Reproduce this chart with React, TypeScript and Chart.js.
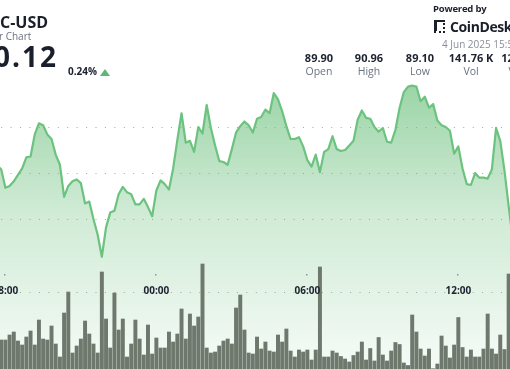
import React, { useEffect, useRef } from "react";
import { Chart, registerables } from "chart.js";

Chart.register(...registerables);

// Time in minutes after 3 Jun 2025 18:00, 10-minute steps
const priceStartMinute = -20;
const volumeStartMinute = -10;
const stepMinutes = 10;

const prices = [
  90.09, 90.05, 89.85, 89.87, 89.92, 89.99, 90.06, 90.18, 90.19, 90.43,
  90.55, 90.53, 90.43, 90.38, 90.21, 90.10, 89.75, 89.87, 89.92, 89.94,
  89.90, 89.68, 89.70, 89.51, 89.34, 89.10, 89.42, 89.58, 89.60, 89.78,
  89.86, 89.80, 89.78, 89.67, 89.67, 89.73, 89.64, 89.54, 89.82, 89.93,
  89.89, 89.83, 90.06, 90.37, 90.66, 90.34, 90.36, 90.24, 90.51, 90.44,
  90.75, 90.50, 90.31, 90.14, 90.13, 90.10, 90.27, 90.45, 90.52, 90.57,
  90.53, 90.45, 90.60, 90.62, 90.70, 90.66, 90.88, 90.81, 90.68, 90.52,
  90.38, 90.38, 90.40, 90.30, 90.15, 90.08, 90.21, 90.02, 90.24, 90.27,
  90.41, 90.27, 90.25, 90.26, 90.31, 90.36, 90.59, 90.69, 90.61, 90.60,
  90.51, 90.46, 90.50, 90.35, 90.34, 90.48, 90.72, 90.89, 90.95, 90.96,
  90.95, 90.79, 90.84, 90.72, 90.76, 90.58, 90.53, 90.51, 90.47, 90.22,
  90.30, 90.06, 89.89, 89.88, 90.01, 89.96, 89.96, 89.95, 90.05, 90.50,
  90.36, 90.04, 89.65, 89.28,
];

const volumes = [
  986, 986, 1156, 1258, 952, 816, 1088, 1292, 816, 1666,
  1020, 986, 1462, 850, 408, 1904, 2618, 544, 782, 1020,
  1632, 1190, 850, 544, 3298, 1700, 714, 2584, 1326, 1700,
  408, 850, 1666, 1020, 476, 1496, 510, 1054, 714, 714,
  1258, 918, 1190, 2040, 1020, 1870, 1462, 1768, 3570, 714,
  544, 578, 782, 952, 1020, 850, 2074, 2516, 1326, 544,
  510, 1088, 680, 918, 612, 578, 1156, 918, 1360, 612,
  408, 646, 578, 646, 306, 646, 3468, 408, 408, 612,
  544, 425, 340, 238, 459, 578, 918, 306, 697, 272,
  1071, 476, 272, 612, 901, 833, 204, 119, 1836, 1258,
  680, 442, 680, 10, 170, 1122, 782, 374, 816, 1751,
  731, 408, 646, 408, 408, 680, 1870, 680, 510, 1156,
  663, 3230,
];

const tickMinutes = [0, 360, 720, 1080];
const tickLabels = ["18:00", "00:00", "06:00", "12:00"];
const priceGridValues = [89.5, 90.0, 90.5];

const statValues = ["89.90", "90.96", "89.10", "141.76 K", "12.76 M"];
const statLabels = ["Open", "High", "Low", "Vol", "Value"];

const FONT = '"Open Sans", "Noto Sans", sans-serif';

const timeAxisPlugin = {
  id: "timeAxis",
  beforeDatasetsDraw(chart: any) {
    const { ctx, chartArea } = chart;
    const rowY = chartArea.bottom - 77 + 0.5;
    ctx.save();
    ctx.strokeStyle = "rgba(80,80,80,0.5)";
    ctx.lineWidth = 1;
    ctx.setLineDash([1, 8.43]);
    ctx.lineDashOffset = -1.2;
    ctx.beginPath();
    ctx.moveTo(chartArea.left, rowY);
    ctx.lineTo(chartArea.right, rowY);
    ctx.stroke();
    ctx.restore();
  },
  afterDatasetsDraw(chart: any) {
    const { ctx, chartArea, scales } = chart;
    const x = scales.x;
    const rowY = chartArea.bottom - 77;
    ctx.save();
    ctx.font = `bold 10px ${FONT}`;
    ctx.textAlign = "center";
    ctx.textBaseline = "alphabetic";
    tickMinutes.forEach((m, i) => {
      const px = x.getPixelForValue(m);
      ctx.fillStyle = "rgba(90,90,90,0.6)";
      ctx.fillRect(Math.round(px) - 1, rowY - 18, 1.5, 1.5);
      ctx.fillStyle = "#1d2230";
      ctx.fillText(tickLabels[i], px, rowY + 1.5);
    });
    ctx.restore();
  },
};

function PriceChart() {
  const ref = useRef<HTMLCanvasElement | null>(null);
  useEffect(() => {
    if (!ref.current) return;
    const chart = new Chart(ref.current, {
      type: "line",
      data: {
        datasets: [
          {
            type: "line",
            data: prices.map((p, k) => ({ x: priceStartMinute + k * stepMinutes, y: p })),
            borderColor: "#6cc27f",
            borderWidth: 2.2,
            pointRadius: 0,
            tension: 0,
            borderJoinStyle: "round",
            fill: "start",
            backgroundColor: (c: any) => {
              const ch = c.chart;
              const area = ch.chartArea;
              if (!area) return "rgba(98,188,116,0.3)";
              const top = ch.scales.y.getPixelForValue(91.0);
              const g = ch.ctx.createLinearGradient(0, top, 0, area.bottom);
              g.addColorStop(0, "rgba(98,188,116,0.64)");
              g.addColorStop(0.45, "rgba(98,188,116,0.30)");
              g.addColorStop(1, "rgba(98,188,116,0.06)");
              return g;
            },
            yAxisID: "y",
            order: 1,
          } as any,
          {
            type: "bar",
            data: volumes.map((v, k) => ({ x: volumeStartMinute + k * stepMinutes, y: v })),
            backgroundColor: "#6f786d",
            barThickness: 3.3,
            yAxisID: "y1",
            order: 0,
          } as any,
        ],
      },
      options: {
        animation: false,
        responsive: false,
        maintainAspectRatio: false,
        devicePixelRatio: 1,
        layout: { padding: 0 },
        plugins: { legend: { display: false }, tooltip: { enabled: false } },
        scales: {
          x: {
            type: "linear",
            min: -12.85,
            max: 1203.2,
            offset: false,
            display: false,
          },
          y: {
            type: "linear",
            min: 87.88,
            max: 91.891,
            display: true,
            position: "left",
            ticks: { display: false },
            grid: { drawTicks: false, color: "rgba(80,80,80,0.5)", lineWidth: 1 },
            border: { display: false, dash: [1, 8.43], dashOffset: -1.2 },
            afterBuildTicks: (s: any) => {
              s.ticks = priceGridValues.map((v) => ({ value: v }));
            },
          },
          y1: {
            type: "linear",
            min: 0,
            max: 12546,
            display: false,
          },
        },
      } as any,
      plugins: [timeAxisPlugin],
    });
    return () => chart.destroy();
  }, []);
  return (
    <canvas
      ref={ref}
      width={510}
      height={369}
      style={{ position: "absolute", left: 0, top: 0, width: 510, height: 369 }}
    />
  );
}

const abs = (o: React.CSSProperties): React.CSSProperties => ({
  position: "absolute",
  lineHeight: 1,
  whiteSpace: "nowrap",
  ...o,
});

export default function App() {
  const centers = [319, 369, 420, 471, 522];
  return (
    <div
      style={{
        position: "fixed",
        left: 0,
        top: 0,
        width: 510,
        height: 369,
        overflow: "hidden",
        background: "#fff",
        fontFamily: FONT,
      }}
    >
      <PriceChart />
      <div style={abs({ left: 0, top: 14.2, fontSize: 16, fontWeight: 700, color: "#1a1f2c" })}>C-USD</div>
      <div style={abs({ left: -1, top: 31.3, fontSize: 10, color: "#6b7280" })}>r Chart</div>
      <div style={abs({ left: -6, top: 42.3, fontSize: 28, fontWeight: 700, color: "#1a1f2c", letterSpacing: 2 })}>0.12</div>
      <div style={abs({ left: 68, top: 66.3, fontSize: 10, fontWeight: 700, color: "#1a1f2c" })}>0.24%</div>
      <div
        style={{
          position: "absolute",
          left: 100,
          top: 69,
          width: 0,
          height: 0,
          borderLeft: "5px solid transparent",
          borderRight: "5px solid transparent",
          borderBottom: "7px solid #5cb874",
        }}
      />
      <div style={abs({ left: 433, top: 4.3, fontSize: 9.5, fontWeight: 700, color: "#1a1f2c", letterSpacing: -0.2 })}>Powered by</div>
      <div
        style={{
          position: "absolute",
          left: 434,
          top: 20,
          width: 6,
          height: 9,
          borderLeft: "3px solid #1a1f2c",
          borderTop: "2px solid #1a1f2c",
          borderBottom: "2px dotted #1a1f2c",
          borderRight: "2px dotted #1a1f2c",
        }}
      />
      <div style={abs({ left: 450, top: 19.6, fontSize: 14, fontWeight: 700, color: "#1a1f2c", letterSpacing: -0.4 })}>CoinDesk</div>
      <div style={abs({ left: 442, top: 39.3, fontSize: 10, color: "#8a8f98" })}>4 Jun 2025 15:59</div>
      {statValues.map((v, i) => (
        <div
          key={"v" + i}
          style={abs({ left: centers[i] - 40, width: 80, textAlign: "center", top: 52.1, fontSize: 11, fontWeight: 700, color: "#1c2130" })}
        >
          {v}
        </div>
      ))}
      {statLabels.map((l, i) => (
        <div
          key={"l" + i}
          style={abs({ left: centers[i] - 40, width: 80, textAlign: "center", top: 66.2, fontSize: 10.5, color: "#6b7280" })}
        >
          {l}
        </div>
      ))}
    </div>
  );
}
